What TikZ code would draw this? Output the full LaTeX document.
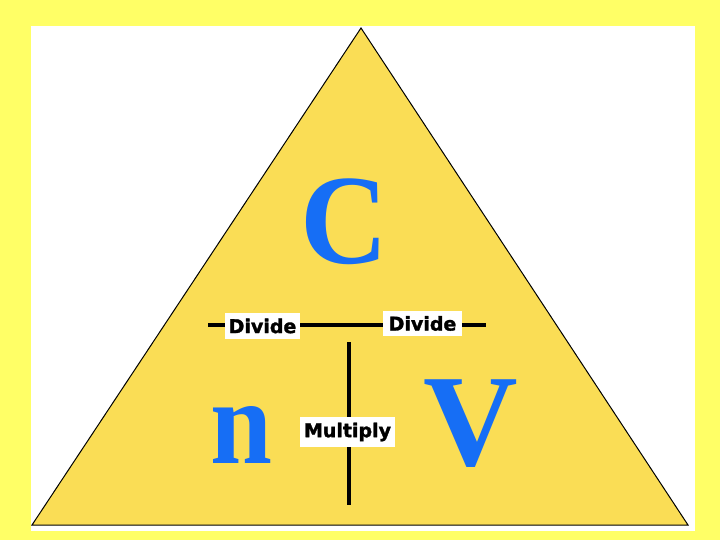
\documentclass[tikz,border=0pt]{standalone}
\usepackage{fontspec}
\setmainfont{Liberation Serif}
\newfontfamily\labelfont[BoldFeatures={FakeBold=1.6}]{DejaVu Sans}
\definecolor{bgyellow}{RGB}{255,255,102}
\definecolor{trifill}{RGB}{250,221,85}
\definecolor{letterblue}{RGB}{22,110,245}
\begin{document}
\begin{tikzpicture}[x=1pt,y=-1pt,
  bigletter/.style={inner sep=0pt,anchor=base,text=letterblue,font=\fontsize{131}{131}\selectfont\bfseries},
  labelbox/.style={fill=white,inner sep=0pt,minimum height=26pt,font=\labelfont\fontsize{19}{19}\selectfont\bfseries},
  barline/.style={line width=3.5pt,black}]
\useasboundingbox (0,0) rectangle (720,540);
\fill[bgyellow] (0,0) rectangle (720,540);
\fill[white] (31,26) rectangle (695,531);
\coordinate (apex) at (361,28);
\coordinate (bl) at (32,525);
\coordinate (br) at (688,525);
\filldraw[fill=trifill,draw=black,line width=1pt] (apex) -- (br) -- (bl) -- cycle;
% connectors
\coordinate (hl) at (208,325);
\coordinate (hr) at (486,325);
\coordinate (vt) at (349,342);
\coordinate (vb) at (349,505);
\draw[barline] (hl) -- (hr);
\draw[barline] (vt) -- (vb);
% labels
\node[labelbox,minimum width=75pt] (divl) at (262.5,326) {Divide};
\node[labelbox,minimum width=79pt,minimum height=25pt] (divr) at (422.5,323.5) {Divide};
\node[labelbox,minimum width=95pt,minimum height=30pt] (mult) at (347.5,432) {Multiply};
% letters
\node[bigletter,font=\fontsize{128}{128}\selectfont\bfseries,xscale=0.95] (C) at (344,263) {C};
\node[bigletter,font=\fontsize{121}{121}\selectfont\bfseries,xscale=0.92] (n) at (241.5,463) {n};
\node[bigletter] (V) at (471,465) {V};
\end{tikzpicture}
\end{document}
